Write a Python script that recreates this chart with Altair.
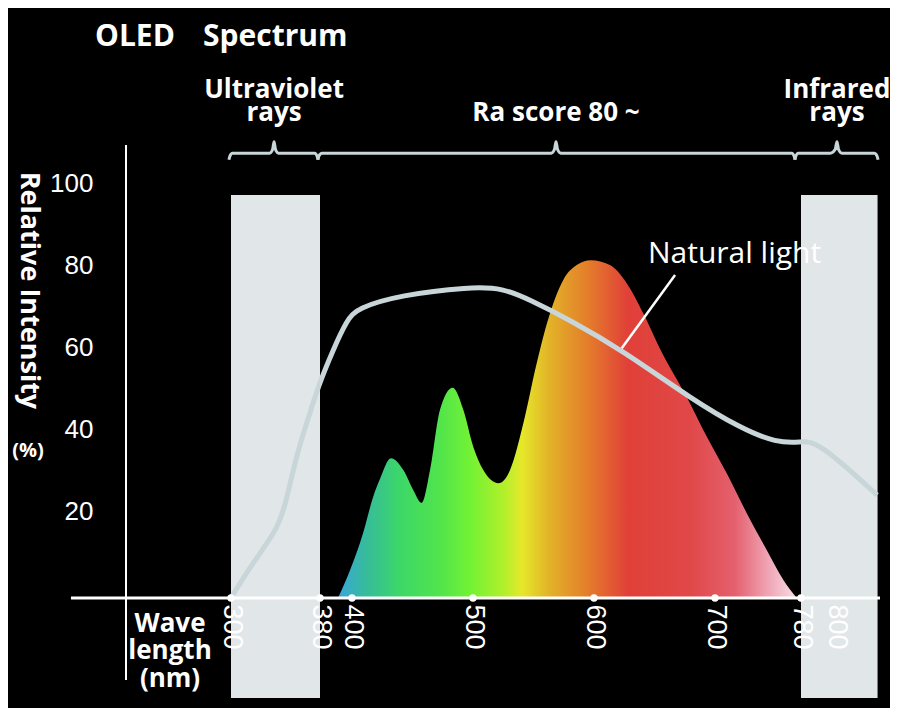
import altair as alt
import pandas as pd

# ---------------- data ----------------
wavelength_ticks = [300, 380, 400, 500, 600, 700, 780, 800]
dot_ticks = [300, 380, 400, 500, 600, 700, 780]
intensity_ticks = [20, 40, 60, 80, 100]

# OLED spectrum (nm, relative intensity %)
spectrum_nm = [391.3, 398.8, 409.3, 417.4, 423.1, 432.2, 442.4, 450.7, 457.6, 464.5,
               472.7, 483.2, 492.0, 500.2, 508.5, 521.0, 530.6, 541.6, 552.6, 563.6,
               574.6, 585.7, 597.3, 613.2, 627.0, 640.8, 654.5, 676.6, 690.3, 710.9,
               729.5, 748.1, 763.6, 776.0]
spectrum_val = [0, 6.8, 16.0, 24.6, 29.0, 34.1, 31.2, 26.3, 23.2, 31.2,
                45.9, 51.3, 45.9, 36.9, 31.2, 28.0, 31.2, 42.6, 57.2, 69.4,
                77.6, 81.2, 82.4, 81.2, 76.8, 69.4, 60.8, 49.0, 41.0, 30.4,
                20.7, 11.7, 4.4, 0]

# Natural light curve
natural_nm = [300, 317.1, 341.3, 348.5, 359.3, 371.0, 378.2, 388.1, 396.9, 404.1,
              439.7, 497.5, 524.8, 547.1, 580.2, 623.1, 681.8, 723.3, 757.7, 779.1,
              789.1, 833.6]
natural_val = [0, 7.6, 16.6, 22.2, 35.4, 45.1, 51.5, 60.5, 67.8, 70.7,
               73.9, 75.9, 75.6, 72.7, 67.8, 60.5, 48.3, 41.5, 37.8, 38.0,
               38.5, 25.1]

# Shaded bands (UV and IR)
band_start = [300, 780]
band_end = [380, 834]
band_top = [98.3, 98.3]
band_bottom = [-24.4, -24.4]

# Braces above the plot
brace_names = ["Ultraviolet", "Ra", "Infrared"]
brace_start = [298.3, 378.2, 774.4]
brace_end = [378.2, 774.4, 834.4]
brace_tip = [338.7, 568.6, 800.8]

# Brace labels
label_text = ["Ultraviolet", "rays", "Ra score 80 ~", "Infrared", "rays"]
label_nm = [338.7, 338.7, 568.6, 800.8, 800.8]
label_val = [122.0, 116.3, 116.3, 122.0, 116.3]

# Gradient colours of the spectrum (offset, colour)
grad_offsets = [0.0, 0.059, 0.135, 0.222, 0.288, 0.364, 0.401, 0.458, 0.549, 0.632,
                0.767, 0.865, 0.941, 1.0]
grad_colors = ["#3aa6dc", "#36bb9c", "#3cd768", "#52e44c", "#72f234", "#b4ef2a",
               "#e6e82a", "#e2b428", "#e47a2c", "#e04038", "#e04848", "#e4606e",
               "#f0a8b8", "#f8dce4"]

# ---------------- tables ----------------
spec_df = pd.DataFrame({"nm": spectrum_nm, "val": spectrum_val})
nat_df = pd.DataFrame({"nm": natural_nm, "val": natural_val})
band_df = pd.DataFrame({"nm": band_start, "x2": band_end, "val": band_top, "y2": band_bottom})
dots_df = pd.DataFrame({"nm": dot_ticks, "val": [0] * len(dot_ticks)})
lab_df = pd.DataFrame({"t": label_text, "nm": label_nm, "val": label_val})

rows = []
y0 = 108.5
for name, a, b, tip in zip(brace_names, brace_start, brace_end, brace_tip):
    pts = [(a, y0 - 1.6), (a + 0.8, y0 - 0.7), (a + 3.0, y0), (tip - 4.0, y0),
           (tip - 1.3, y0 + 0.9), (tip, y0 + 2.8), (tip + 1.3, y0 + 0.9), (tip + 4.0, y0),
           (b - 3.0, y0), (b - 0.8, y0 - 0.7), (b, y0 - 1.6)]
    for i, (px, py) in enumerate(pts):
        rows.append({"brace": name, "i": i, "nm": px, "val": py})
brace_df = pd.DataFrame(rows)

# ---------------- scales & axes ----------------
x_scale = alt.Scale(domain=[213.2, 300, 380, 400, 700, 780, 800, 836],
                    range=[0, 105, 194, 226, 589, 675, 710, 754], nice=False, zero=False)
y_scale = alt.Scale(domain=[0, 110.5], nice=False, zero=False)

WHITE = "#ffffff"
LINE = "#c8d5d9"

x_axis = alt.Axis(values=wavelength_ticks, labelAngle=90, labelAlign="left",
                  labelBaseline="middle", labelColor=WHITE, labelFont="Liberation Sans",
                  labelFontSize=27, labelPadding=6, domain=False, ticks=False, grid=False,
                  title=None, zindex=1, labelOverlap=False, labelFlush=False)
y_axis = alt.Axis(values=intensity_ticks, labelColor=WHITE, labelFont="Liberation Sans",
                  labelFontSize=26, labelPadding=33, labelOffset=-5, domain=False,
                  ticks=False, grid=False, title="Relative Intensity", titleAngle=90,
                  titleColor=WHITE, titleFont="Open Sans", titleFontWeight="bold",
                  titleFontSize=27, titleX=-98, titleY=145, titleAlign="center",
                  titleBaseline="middle", zindex=1)


def X(field="nm"):
    return alt.X(f"{field}:Q", scale=x_scale, axis=x_axis)


def Y(field="val"):
    return alt.Y(f"{field}:Q", scale=y_scale, axis=y_axis)


bands = alt.Chart(band_df).mark_rect(color="#e1e6e9").encode(
    x=X(), x2="x2:Q", y=Y(), y2="y2:Q",
)

gradient = alt.Gradient(
    gradient="linear",
    stops=[alt.GradientStop(color=c, offset=o) for o, c in zip(grad_offsets, grad_colors)],
    x1=0, x2=1, y1=0, y2=0,
)
spectrum = alt.Chart(spec_df).mark_area(color=gradient, interpolate="monotone").encode(
    x=X(), y=Y(),
)

natural = alt.Chart(nat_df).mark_line(color=LINE, strokeWidth=5, interpolate="basis").encode(
    x=X(), y=Y(),
)

leader_df = pd.DataFrame({"nm": [622.9], "x2": [667.0], "val": [60.9], "y2": [78.8]})
leader = alt.Chart(leader_df).mark_rule(color=WHITE, strokeWidth=2.5).encode(
    x=X(), x2="x2:Q", y=Y(), y2="y2:Q",
)

axis_lines_df = pd.DataFrame({"nm": [167.7, 213.2], "x2": [836.0, 213.2],
                              "val": [0.0, -20.0], "y2": [0.0, 110.5],
                              "w": [3.0, 2.0]})
axis_lines = alt.Chart(axis_lines_df).mark_rule(color=WHITE).encode(
    x=X(), x2="x2:Q", y=Y(), y2="y2:Q",
    strokeWidth=alt.StrokeWidth("w:Q", scale=None, legend=None),
)

dots = alt.Chart(dots_df).mark_circle(color=WHITE, size=55, opacity=1).encode(
    x=X(), y=Y(),
)

braces = alt.Chart(brace_df).mark_line(color=LINE, strokeWidth=3, interpolate="monotone").encode(
    x=X(), y=Y(), detail="brace:N", order="i:Q",
)

brace_labels = alt.Chart(lab_df).mark_text(
    color=WHITE, font="Open Sans", fontWeight="bold", fontSize=26,
    align="center", baseline="alphabetic",
).encode(x=X(), y=Y(), text="t:N")

nat_label_df = pd.DataFrame({"t": ["Natural light"], "nm": [644.6], "val": [81.7]})
nat_label = alt.Chart(nat_label_df).mark_text(
    color=WHITE, font="Open Sans", fontSize=30, align="left", baseline="alphabetic",
).encode(x=X(), y=Y(), text="t:N")

# Static text annotations (pixel positions relative to the plot area)
title_df = pd.DataFrame({"t": ["OLED", "Spectrum"], "px": [-31, 77], "py": [-99, -99]})
title = alt.Chart(title_df).mark_text(
    color=WHITE, font="Open Sans", fontWeight="bold", fontSize=30,
    align="left", baseline="alphabetic",
).encode(x=alt.X("px:Q", scale=None, axis=None), y=alt.Y("py:Q", scale=None, axis=None), text="t:N")

pct_df = pd.DataFrame({"t": ["(%)"], "px": [-98], "py": [306]})
pct = alt.Chart(pct_df).mark_text(
    color=WHITE, font="Open Sans", fontWeight="bold", fontSize=20,
    align="center", baseline="middle",
).encode(x=alt.X("px:Q", scale=None, axis=None), y=alt.Y("py:Q", scale=None, axis=None), text="t:N")

wave_df = pd.DataFrame({"t": ["Wave", "length", "(nm)"], "px": [44, 44, 44],
                        "py": [487, 514, 542]})
wave = alt.Chart(wave_df).mark_text(
    color=WHITE, font="Open Sans", fontWeight="bold", fontSize=26,
    align="center", baseline="alphabetic",
).encode(x=alt.X("px:Q", scale=None, axis=None), y=alt.Y("py:Q", scale=None, axis=None), text="t:N")

chart = alt.layer(
    bands, spectrum, natural, leader, axis_lines, dots, braces,
    brace_labels, nat_label, title, pct, wave,
).properties(
    width=754, height=453,
    autosize=alt.AutoSizeParams(type="none"),
    padding={"left": 118, "top": 137, "right": 10, "bottom": 110},
).configure(background="black").configure_view(stroke=None)

chart.save("out.html", embed_options={"renderer": "svg", "actions": False})
